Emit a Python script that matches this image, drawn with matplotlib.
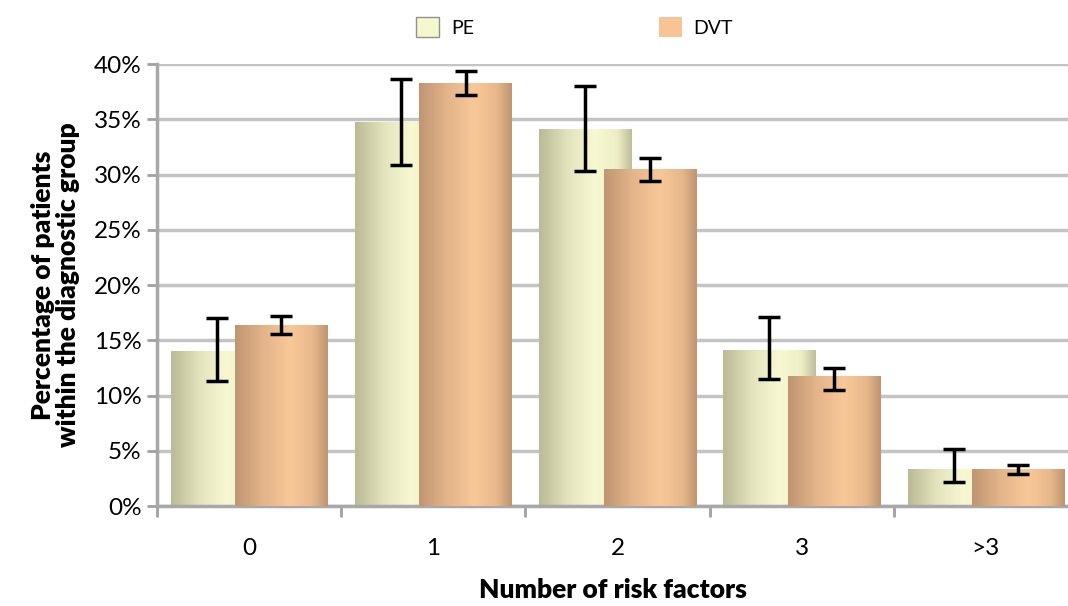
import numpy as np
import matplotlib
matplotlib.use("Agg")
import matplotlib.pyplot as plt
from matplotlib.colors import LinearSegmentedColormap
from matplotlib.patches import Patch, Rectangle

plt.rcParams['font.family'] = ['Lato', 'DejaVu Sans']

# data (percent)
categories = ['0', '1', '2', '3', '>3']
pe = [14.0, 34.75, 34.1, 14.1, 3.35]
pe_hi = [17.0, 38.7, 38.0, 17.1, 5.2]
pe_lo = [11.3, 30.9, 30.3, 11.5, 2.2]
dvt = [16.4, 38.3, 30.5, 11.8, 3.35]
dvt_hi = [17.2, 39.4, 31.5, 12.5, 3.7]
dvt_lo = [15.6, 37.2, 29.4, 10.5, 2.9]

pe_cmap = LinearSegmentedColormap.from_list(
    'pe', [(0, '#bbbb97'), (0.3, '#e2e2bc'), (0.6, '#f8f8d2'), (0.85, '#eeeec6'), (1, '#c0bf9b')])
dvt_cmap = LinearSegmentedColormap.from_list(
    'dvt', [(0, '#c09672'), (0.3, '#e4b48a'), (0.6, '#f8c898'), (0.85, '#e8b88c'), (1, '#bf9670')])

fig = plt.figure(figsize=(10.68, 6.06), dpi=100)
ax = fig.add_axes([0.147, 0.165, 0.853, 0.729])

x = np.arange(len(categories))
w = 0.5
off = 0.175
grad = np.linspace(0, 1, 64).reshape(1, -1)

def gradient_bars(xs, vals, cmap, z):
    for xi, v in zip(xs, vals):
        r = Rectangle((xi - w / 2, 0), w, v, facecolor='none', edgecolor='none')
        ax.add_patch(r)
        im = ax.imshow(grad, cmap=cmap, aspect='auto', extent=(xi - w / 2, xi + w / 2, 0, v),
                       zorder=z, interpolation='bilinear')
        im.set_clip_path(r)

gradient_bars(x - off, pe, pe_cmap, 2)
gradient_bars(x + off, dvt, dvt_cmap, 3)

pe_err = [np.array(pe) - np.array(pe_lo), np.array(pe_hi) - np.array(pe)]
dvt_err = [np.array(dvt) - np.array(dvt_lo), np.array(dvt_hi) - np.array(dvt)]
ax.errorbar(x - off, pe, yerr=pe_err, fmt='none', ecolor='black', elinewidth=2.5,
            capsize=8, capthick=2.5, zorder=4)
ax.errorbar(x + off, dvt, yerr=dvt_err, fmt='none', ecolor='black', elinewidth=2.5,
            capsize=8, capthick=2.5, zorder=4)

ax.set_xlim(-0.5, 4.446)
ax.set_ylim(0, 40)
ax.set_yticks(np.arange(0, 41, 5))
ax.set_yticklabels([f'{v}%' for v in range(0, 41, 5)])
ax.set_xticks(x)
ax.set_xticklabels(categories)
ax.set_xticks(np.arange(-0.5, 4.5, 1), minor=True)
ax.tick_params(axis='x', which='major', length=0, pad=23, labelsize=17.5)
ax.tick_params(axis='x', which='minor', length=8, width=2, color='#a0a0a0', direction='out')
ax.tick_params(axis='y', length=7, width=2, color='#a0a0a0', labelsize=17.5, pad=4)
ax.grid(axis='y', color='#c4c4c4', lw=2.5, zorder=0)
ax.set_axisbelow(True)
for s in ['top', 'right']:
    ax.spines[s].set_visible(False)
for s in ['left', 'bottom']:
    ax.spines[s].set_color('#a8a8a8')
    ax.spines[s].set_linewidth(2.5)

ax.set_xlabel('Number of risk factors', fontsize=19, fontweight='heavy', labelpad=14)
ax.set_ylabel('Percentage of patients\nwithin the diagnostic group', fontsize=19,
              fontweight='heavy', labelpad=10, linespacing=1.05)

handles = [Patch(facecolor='#f5f7cc', edgecolor='#909090', label='PE'),
           Patch(facecolor='#f8c494', edgecolor='none', label='DVT')]
fig.legend(handles=handles, loc='upper center', bbox_to_anchor=(0.538, 1.0), ncol=2,
           frameon=False, fontsize=14, columnspacing=9.5, handlelength=1.2, handleheight=1.2,
           handletextpad=0.6)

fig.savefig('out.png', dpi=100)
